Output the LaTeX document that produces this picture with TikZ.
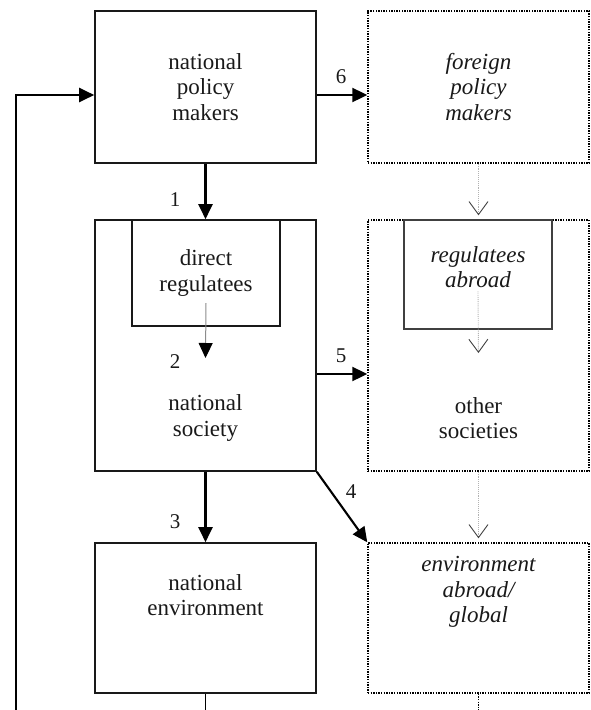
\documentclass[tikz,border=0pt]{standalone}
\usepackage{fontspec}
\setmainfont{Liberation Serif}
\usetikzlibrary{arrows.meta}

\begin{document}
\begin{tikzpicture}[x = 1pt, y = -1pt]
\tikzstyle{BoxStyle}=[shape = rectangle,
                      draw = black!90,
                      line width = 1.6pt,
                      minimum width = 221pt,
                      inner sep = 0pt]
\tikzstyle{DotBoxStyle}=[BoxStyle,
                         draw = black,
                         line width = 1.4pt,
                         dash pattern = on 1.4pt off 1.2pt]
\tikzstyle{InnerStyle}=[BoxStyle,
                        minimum width = 148pt]
\tikzstyle{TextStyle}=[align = center, text = black!90,
                       font = \fontsize{23}{25.5}\selectfont]
\tikzstyle{ItStyle}=[TextStyle,
                     font = \fontsize{23}{25.5}\selectfont\itshape]
\tikzstyle{NumStyle}=[text = black!90, font = \fontsize{21}{24}\selectfont]
\tikzstyle{ArrowStyle}=[line width = 2.1pt, black,
                        -{Triangle[length = 15pt, width = 14pt]}]
\tikzstyle{GrayArrowStyle}=[line width = 1pt, black!45,
                            -{Triangle[length = 15pt, width = 14pt, black]}]
\tikzstyle{VStyle}=[line width = 0.9pt, black!30, densely dotted,
                    -{Straight Barb[length = 13pt, width = 19pt, black!75]},
                    shorten > = 4pt]
\useasboundingbox (0, 0) rectangle (591, 710);
\node[BoxStyle, minimum height = 152pt, TextStyle] (npm) at (205.5, 87) {national\\policy\\makers};
\node[DotBoxStyle, minimum height = 152pt, ItStyle] (fpm) at (478.5, 87) {foreign\\policy\\makers};
\node[BoxStyle, minimum height = 251pt] (soc) at (205.5, 345.5) {};
\node[InnerStyle, minimum height = 106pt, TextStyle] (dreg) at (206, 273) {direct\\regulatees};
\node[TextStyle] (soctext) at (205.5, 418) {national\\society};
\node[DotBoxStyle, minimum height = 251pt] (oth) at (478.5, 345.5) {};
\node[InnerStyle, minimum height = 109pt, line width = 1.2pt, draw = black!75] (rab) at (478, 274.5) {};
\node[ItStyle] (rabtext) at (478, 267) {regulatees\\abroad};
\node[TextStyle] (othtext) at (478.5, 418) {other\\societies};
\node[BoxStyle, minimum height = 150pt] (nenv) at (205.5, 618) {};
\node[TextStyle] (nenvtext) at (205.5, 595) {national\\environment};
\node[DotBoxStyle, minimum height = 150pt] (genv) at (478.5, 618) {};
\node[ItStyle] (genvtext) at (478.5, 592) {environment\\abroad/\\global};
\node[NumStyle] (n1) at (175, 200) {1};
\node[NumStyle] (n2) at (175, 362) {2};
\node[NumStyle] (n3) at (175, 522) {3};
\node[NumStyle] (n4) at (351, 492) {4};
\node[NumStyle] (n5) at (341, 356) {5};
\node[NumStyle] (n6) at (341, 77) {6};
\coordinate (fb) at (16, 710);
\coordinate (nb) at (205.5, 710);
\coordinate (gb) at (478.5, 710);
\coordinate (dregtip) at (205.5, 358);
\coordinate (rabtip) at (478.5, 357);
\draw[ArrowStyle] (npm.south) -- (soc.north);
\draw[ArrowStyle] (soc.south) -- (nenv.north);
\draw[ArrowStyle] (soc.south east) -- (genv.north west);
\draw[ArrowStyle] ([yshift = -28.5pt]soc.east) -- ([yshift = -28.5pt]oth.west);
\draw[ArrowStyle] ([yshift = -8pt]npm.east) -- ([yshift = -8pt]fpm.west);
\draw[ArrowStyle] (fb) |- ([yshift = -8pt]npm.west);
\draw[line width = 1.8pt, black] (nenv.south) -- (nb);
\draw[line width = 1.4pt, black, dash pattern = on 1.4pt off 1.2pt] (genv.south) -- (gb);
\draw[GrayArrowStyle] ([yshift = -30pt]dreg.center) -- (dregtip);
\draw[VStyle] (fpm.south) -- (oth.north);
\draw[VStyle] (rabtext.south) -- (rabtip);
\draw[VStyle] (oth.south) -- (genv.north);
\end{tikzpicture}
\end{document}
